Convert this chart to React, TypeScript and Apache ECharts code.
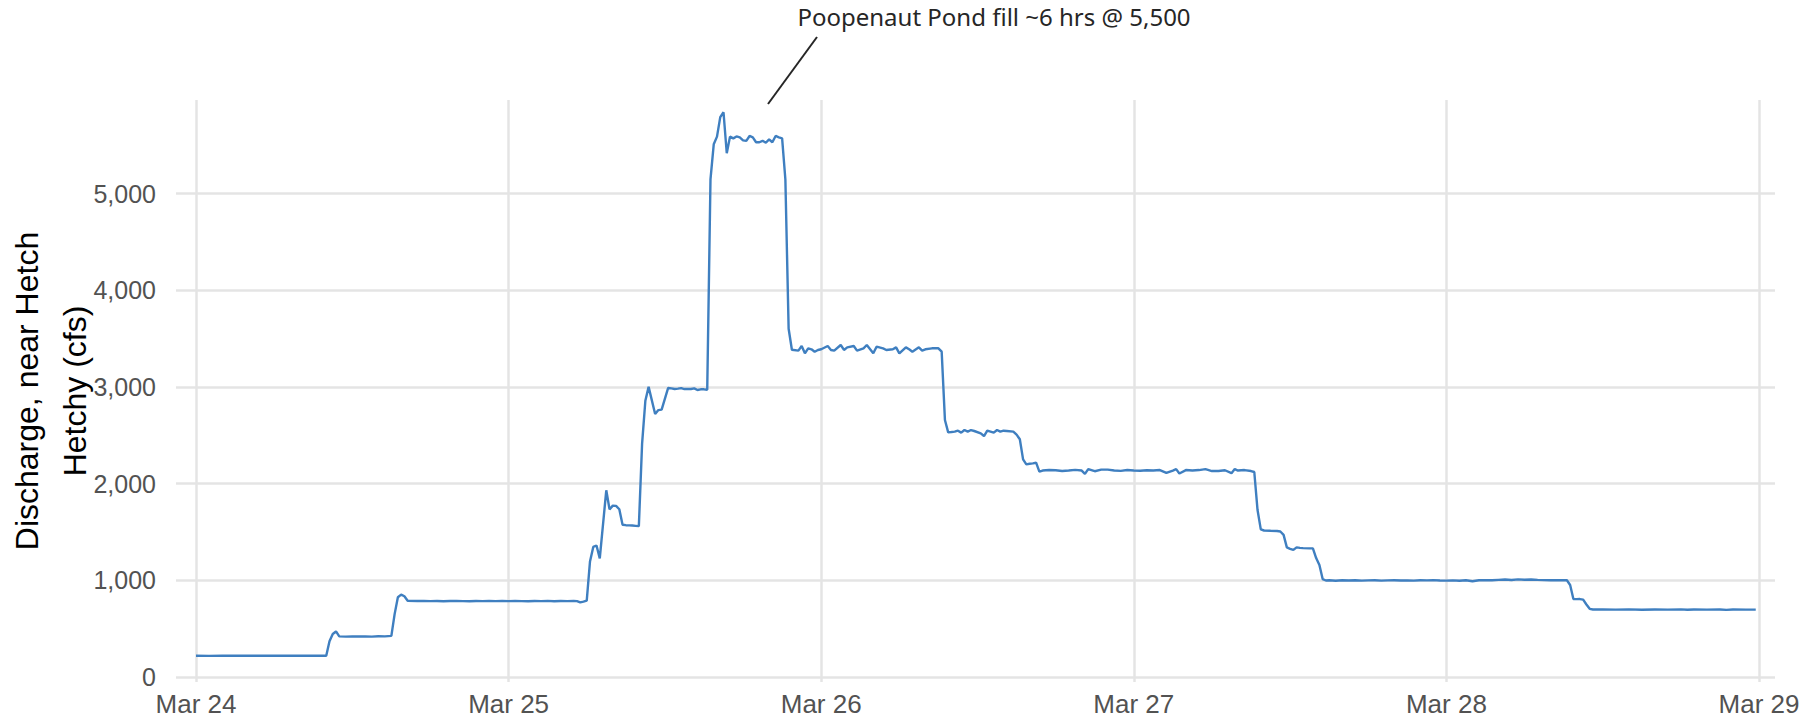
import React, { useEffect, useRef } from "react";
import * as echarts from "echarts";

// x tick labels (one per day, hours 0,24,...,120 from Mar 24 00:00)
const dayLabels = ["Mar 24", "Mar 25", "Mar 26", "Mar 27", "Mar 28", "Mar 29"];
const dayTickHours = [0, 24, 48, 72, 96, 120];

// time of each reading, hours after Mar 24 00:00
const hours = [
  0, 1, 2, 3, 4, 5, 6, 7, 8, 9, 10, 10.25, 10.5, 10.75, 11, 11.5, 12, 12.5, 13, 13.5, 14, 14.5, 15, 15.25, 15.5, 15.75, 16, 16.25,
  17, 17.5, 18, 18.5, 19, 19.5, 20, 20.5, 21, 21.5, 22, 22.5, 23, 23.5, 24, 24.5, 25, 25.5, 26, 26.5, 27, 27.5, 28, 28.5, 29, 29.25,
  29.5, 29.75, 30, 30.25, 30.5, 30.75, 31, 31.5, 31.75, 32, 32.25, 32.5, 32.75, 33, 33.25, 33.5, 33.75, 34, 34.25, 34.5, 34.75, 35.25,
  35.5, 35.75, 36.25, 36.5, 36.75, 37, 37.25, 37.5, 37.75, 38, 38.25, 38.5, 38.75, 39, 39.25, 39.5, 39.75, 40, 40.25, 40.5, 40.75, 41,
  41.25, 41.5, 41.75, 42, 42.25, 42.5, 42.75, 43, 43.25, 43.5, 43.75, 44, 44.25, 44.5, 44.75, 45, 45.25, 45.5, 45.75, 46.25, 46.5,
  46.75, 47, 47.25, 47.5, 47.75, 48, 48.5, 48.75, 49, 49.5, 49.75, 50, 50.5, 50.75, 51.25, 51.5, 52, 52.25, 52.75, 53, 53.5, 53.75,
  54, 54.5, 54.75, 55, 55.5, 55.75, 56, 56.5, 57, 57.25, 57.5, 57.75, 58, 58.25, 58.5, 58.75, 59, 59.25, 59.5, 59.75, 60.25, 60.5,
  60.75, 61, 61.25, 61.5, 61.75, 62, 62.25, 62.75, 63, 63.25, 63.5, 63.75, 64, 64.25, 64.5, 64.75, 65, 65.5, 66, 66.5, 67, 67.5, 68,
  68.25, 68.5, 69, 69.5, 70, 70.5, 71, 71.5, 72, 72.5, 73, 73.5, 74, 74.5, 75, 75.25, 75.5, 76, 76.5, 77, 77.5, 78, 78.5, 79, 79.5,
  79.75, 80, 80.5, 81, 81.25, 81.5, 81.75, 82, 82.5, 83, 83.25, 83.5, 83.75, 84, 84.25, 84.5, 84.75, 85, 85.5, 85.75, 86, 86.25, 86.5,
  86.75, 87, 87.5, 88, 88.5, 89, 89.5, 90, 90.5, 91, 91.5, 92, 92.5, 93, 93.5, 94, 94.5, 95, 95.5, 96, 96.5, 97, 97.5, 98, 98.5, 99,
  99.5, 100, 100.5, 101, 101.5, 102, 102.5, 103, 103.5, 104, 104.5, 105, 105.25, 105.5, 105.75, 106, 106.25, 106.5, 106.75, 107,
  107.25, 108, 109, 110, 111, 112, 113, 114, 114.5, 115, 116, 117, 117.5, 118, 119, 119.75,
];

// discharge (cfs) at each of those times
const flow = [
  220, 218, 220, 219, 220, 220, 219, 220, 220, 219, 220, 370, 445, 471, 420, 418, 420, 419, 420, 418, 422, 420, 425, 650, 825, 852, 835, 788,
  786, 787, 785, 786, 784, 786, 787, 785, 784, 786, 785, 786, 785, 786, 785, 787, 785, 784, 786, 785, 787, 784, 786, 785, 786, 785,
  772, 780, 790, 1195, 1345, 1360, 1226, 1931, 1733, 1772, 1770, 1735, 1575, 1570, 1568, 1566, 1563, 1560, 2414, 2857, 3000, 2719,
  2760, 2765, 2989, 2985, 2978, 2982, 2988, 2978, 2980, 2978, 2985, 2968, 2975, 2975, 2970, 5145, 5509, 5588, 5790, 5840, 5416, 5588,
  5570, 5590, 5580, 5550, 5545, 5595, 5580, 5530, 5530, 5545, 5525, 5560, 5530, 5595, 5580, 5570, 5145, 3601, 3384, 3375, 3423,
  3347, 3399, 3389, 3364, 3382, 3389, 3423, 3382, 3375, 3433, 3382, 3409, 3423, 3375, 3399, 3433, 3347, 3416, 3399, 3382, 3389, 3409,
  3347, 3409, 3389, 3364, 3409, 3375, 3389, 3399, 3399, 3364, 2658, 2530, 2533, 2537, 2547, 2527, 2554, 2537, 2554, 2544, 2520, 2492,
  2547, 2537, 2527, 2554, 2537, 2547, 2544, 2537, 2506, 2458, 2251, 2199, 2205, 2209, 2216, 2123, 2135, 2140, 2138, 2130, 2135, 2142, 2135,
  2100, 2150, 2128, 2145, 2145, 2135, 2132, 2140, 2135, 2133, 2138, 2135, 2140, 2110, 2135, 2150, 2105, 2140, 2135, 2140, 2150, 2130, 2130, 2138, 2108,
  2150, 2135, 2140, 2130, 2120, 1727, 1527, 1515, 1512, 1510, 1505, 1470, 1340, 1325, 1314, 1341, 1335, 1333, 1330, 1330, 1230, 1158, 1013,
  998, 1000, 996, 1000, 998, 1001, 997, 999, 1000, 997, 999, 1001, 998, 999, 997, 1000, 999, 1002, 998, 997, 999, 996, 1000, 990, 1001, 1002,
  1000, 1004, 1008, 1003, 1010, 1006, 1009, 1004, 1002, 1001, 1000, 1002, 1000, 951, 807, 805, 806, 800, 750, 705,
  698, 698, 697, 699, 696, 698, 697, 699, 695, 698, 697, 698, 694, 698, 697, 697,
];

const yTicks = [0, 1000, 2000, 3000, 4000, 5000];
const yTitleLines = ["Discharge, near Hetch", "Hetchy (cfs)"];
const annotationText = "Poopenaut Pond fill ~6 hrs @ 5,500";

const FONT = "'Liberation Sans', Arial, Helvetica, sans-serif";
const GRID_COLOR = "#e4e4e4";

export default function App() {
  const ref = useRef<HTMLDivElement>(null);

  useEffect(() => {
    if (!ref.current) return;
    const chart = echarts.init(ref.current, null, { renderer: "svg" });
    const seriesData = hours.map((h, i) => [h, flow[i]]);

    chart.setOption({
      animation: false,
      backgroundColor: "#ffffff",
      grid: [
        { left: 176, right: 43, top: 96.8, bottom: 48, containLabel: false },
        { left: 196, right: 59, top: 100, bottom: 43, containLabel: false },
      ],
      xAxis: [
        { type: "value", gridIndex: 0, min: -1.535, max: 121.228, show: false },
        {
          type: "value",
          gridIndex: 1,
          min: 0,
          max: 120,
          interval: 24,
          axisLine: { show: false },
          axisTick: { show: false },
          splitLine: { show: true, lineStyle: { color: GRID_COLOR, width: 2.5 } },
          axisLabel: {
            fontSize: 26,
            fontFamily: FONT,
            color: "#525252",
            margin: 9,
            formatter: (v: number) => {
              const i = dayTickHours.indexOf(v);
              return i >= 0 ? dayLabels[i] : "";
            },
          },
        },
      ],
      yAxis: [
        {
          type: "value",
          gridIndex: 0,
          min: 0,
          max: 6000,
          interval: 1000,
          axisLine: { show: false },
          axisTick: { show: false },
          splitLine: { show: true, showMaxLine: false, lineStyle: { color: GRID_COLOR, width: 2.5 } },
          axisLabel: {
            fontSize: 25,
            fontFamily: FONT,
            color: "#525252",
            margin: 20,
            showMaxLabel: false,
            formatter: (v: number) => (yTicks.indexOf(v) >= 0 ? v.toLocaleString("en-US") : ""),
          },
        },
        { type: "value", gridIndex: 1, show: false, min: 0, max: 1 },
      ],
      series: [
        {
          type: "line",
          xAxisIndex: 0,
          yAxisIndex: 0,
          data: seriesData,
          showSymbol: false,
          symbol: "none",
          lineStyle: { color: "#3f7fc0", width: 2.4 },
          z: 5,
        },
      ],
      graphic: [
        {
          type: "text",
          x: 27,
          y: 391,
          rotation: Math.PI / 2,
          style: {
            text: yTitleLines[0],
            font: `32px ${FONT}`,
            fill: "#000000",
            textAlign: "center",
            textVerticalAlign: "middle",
            align: "center",
            verticalAlign: "middle",
          },
        },
        {
          type: "text",
          x: 75,
          y: 391,
          rotation: Math.PI / 2,
          style: {
            text: yTitleLines[1],
            font: `32px ${FONT}`,
            fill: "#000000",
            textAlign: "center",
            textVerticalAlign: "middle",
            align: "center",
            verticalAlign: "middle",
          },
        },
        {
          type: "text",
          x: 994,
          y: 16,
          style: {
            text: annotationText,
            font: `24px 'Noto Sans', 'Open Sans', sans-serif`,
            fill: "#262626",
            textAlign: "center",
            textVerticalAlign: "middle",
            align: "center",
            verticalAlign: "middle",
          },
        },
        {
          type: "line",
          shape: { x1: 817, y1: 37, x2: 768, y2: 104 },
          style: { stroke: "#262626", lineWidth: 2 },
        },
      ],
    });

    return () => chart.dispose();
  }, []);

  return (
    <div
      ref={ref}
      style={{ position: "fixed", left: 0, top: 0, width: 1818, height: 725, background: "#fff" }}
    />
  );
}
